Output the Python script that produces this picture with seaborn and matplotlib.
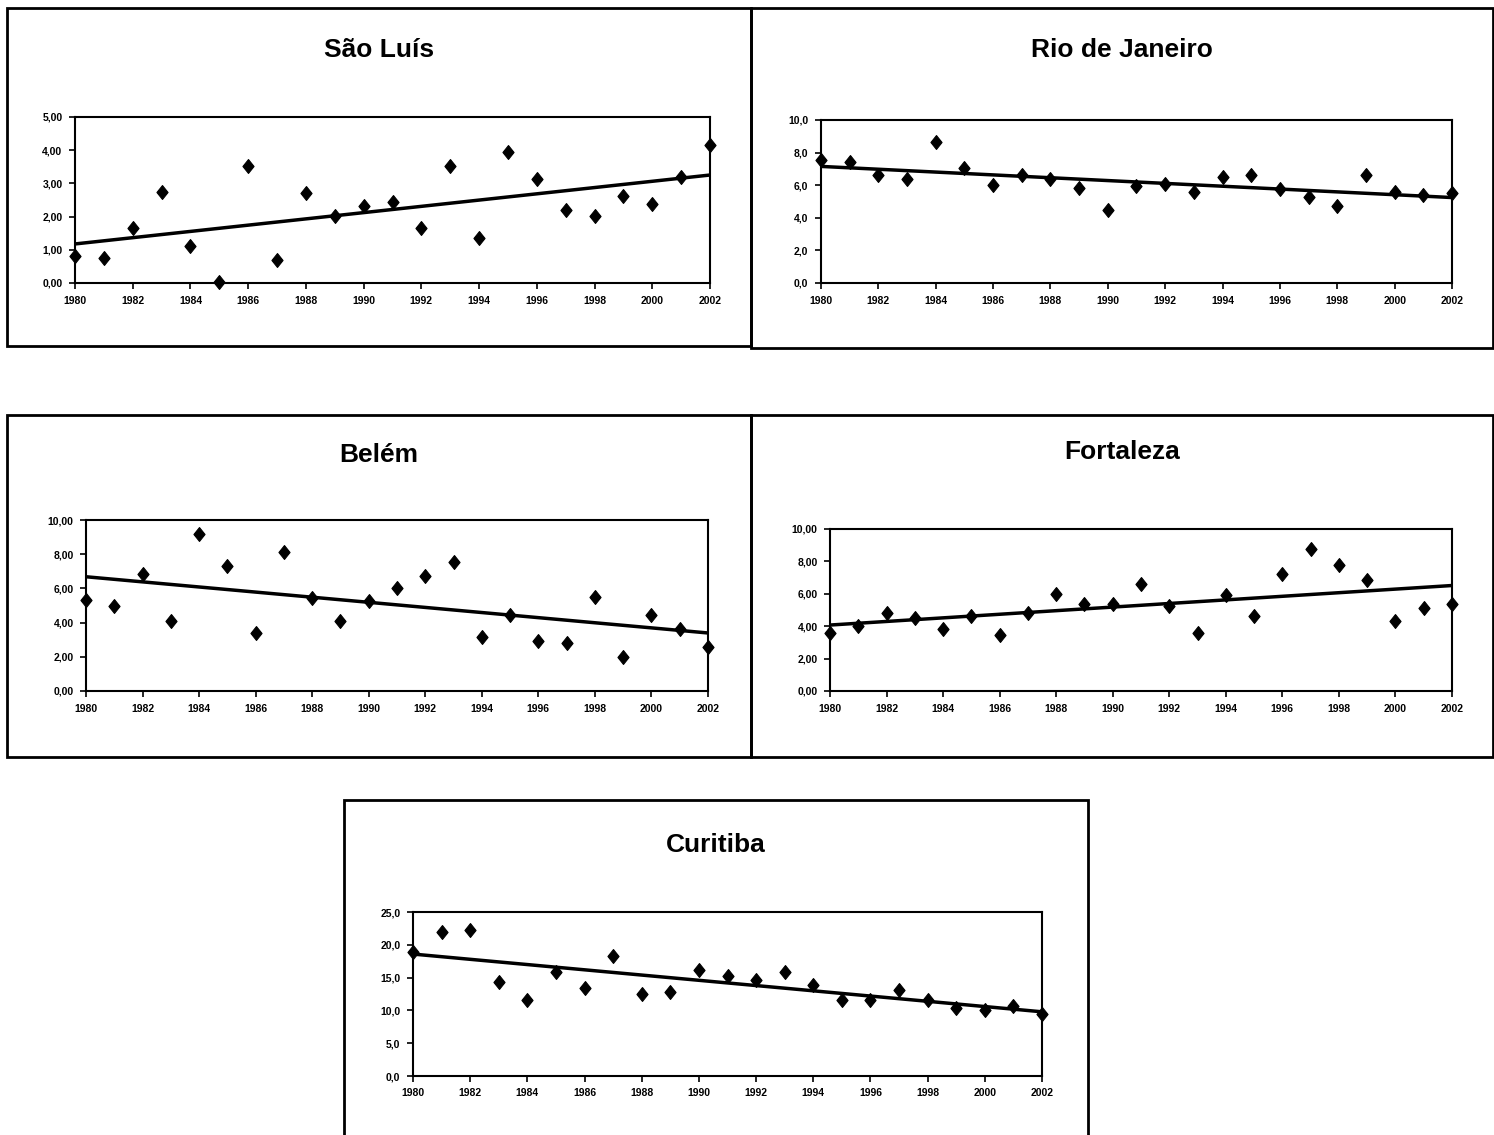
import matplotlib
matplotlib.use('Agg')
import matplotlib.pyplot as plt
from matplotlib.patches import Rectangle
from matplotlib.ticker import FuncFormatter
import numpy as np
import seaborn as sns

years = list(range(1980, 2003))

sao_luis = [0.80, 0.75, 1.65, 2.75, 1.10, 0.02, 3.52, 0.70, 2.70, 2.02, 2.32, 2.45,
            1.65, 3.53, 1.35, 3.95, 3.12, 2.20, 2.02, 2.62, 2.38, 3.18, 4.15]
rio = [7.55, 7.45, 6.60, 6.35, 8.65, 7.05, 6.00, 6.60, 6.35, 5.85, 4.50, 5.95,
       6.10, 5.60, 6.50, 6.60, 5.75, 5.25, 4.75, 6.60, 5.60, 5.40, 5.50]
belem = [5.35, 5.00, 6.85, 4.10, 9.20, 7.30, 3.40, 8.10, 5.45, 4.10, 5.25, 6.05,
         6.70, 7.55, 3.15, 4.45, 2.90, 2.80, 5.50, 2.00, 4.45, 3.65, 2.55]
fortaleza = [3.55, 4.00, 4.80, 4.50, 3.80, 4.65, 3.45, 4.80, 6.00, 5.40, 5.40, 6.60,
             5.25, 3.55, 5.90, 4.65, 7.20, 8.75, 7.80, 6.85, 4.30, 5.10, 5.40]
curitiba = [18.9, 22.0, 22.3, 14.4, 11.6, 15.9, 13.4, 18.3, 12.5, 12.8, 16.2, 15.3,
            14.7, 15.9, 13.8, 11.6, 11.6, 13.1, 11.6, 10.3, 10.0, 10.6, 9.5]

titles = ['São Luís', 'Rio de Janeiro', 'Belém', 'Fortaleza', 'Curitiba']
series = [sao_luis, rio, belem, fortaleza, curitiba]
y_max = [5, 10, 10, 10, 25]
y_step = [1, 2, 2, 2, 5]
y_decimals = [2, 1, 2, 2, 1]

W, H = 1494, 1135
# pixel boxes: frame (x0, y0, x1, y1), axes (x0, y0, x1, y1), title y
frames = [(7, 8, 751, 346), (751, 8, 1493, 348), (7, 415, 751, 757),
          (751, 415, 1493, 757), (344, 800, 1088, 1140)]
axes_px = [(75, 117, 710, 283), (821, 120, 1452, 283), (86, 520, 708, 691),
           (830, 529, 1452, 691), (413, 912, 1042, 1076)]
title_y = [50, 50, 455, 452, 845]

sns.set_style('white')
plt.rcParams['font.family'] = ['Liberation Sans', 'DejaVu Sans']
plt.rcParams['text.color'] = 'black'

fig = plt.figure(figsize=(W / 100, H / 100), dpi=100)

diamond = [(0, 1), (0.8, 0), (0, -1), (-0.8, 0), (0, 1)]

for i in range(5):
    fx0, fy0, fx1, fy1 = frames[i]
    fig.add_artist(Rectangle((fx0 / W, 1 - fy1 / H), (fx1 - fx0) / W, (fy1 - fy0) / H,
                             transform=fig.transFigure, fill=False, edgecolor='black',
                             linewidth=2))
    ax0, ay0, ax1, ay1 = axes_px[i]
    ax = fig.add_axes([ax0 / W, 1 - ay1 / H, (ax1 - ax0) / W, (ay1 - ay0) / H])
    sns.regplot(x=years, y=series[i], ax=ax, scatter=False, ci=None,
                line_kws=dict(color='black', linewidth=2.5))
    sns.scatterplot(x=years, y=series[i], ax=ax, marker=diamond, s=100,
                    color='black', edgecolor='black', clip_on=False, zorder=5)
    ax.set_xlim(1980, 2002)
    ax.set_ylim(0, y_max[i])
    ax.set_xticks(range(1980, 2003, 2))
    ax.set_yticks(np.arange(0, y_max[i] + 0.001, y_step[i]))
    d = y_decimals[i]
    ax.yaxis.set_major_formatter(FuncFormatter(lambda v, p, d=d: f'{v:.{d}f}'.replace('.', ',')))
    ax.tick_params(axis='both', direction='out', length=4, width=1.2, labelsize=7.5,
                   bottom=True, left=True, colors='black', pad=5)
    for lbl in ax.get_xticklabels() + ax.get_yticklabels():
        lbl.set_fontweight('bold')
    for s in ax.spines.values():
        s.set_color('black')
        s.set_linewidth(1.5)
    ax.set_xlabel('')
    ax.set_ylabel('')
    fig.text((fx0 + fx1) / 2 / W, 1 - title_y[i] / H, titles[i], ha='center', va='center',
             fontsize=19, fontweight='bold', color='black')

fig.savefig('out.png', dpi=100)
